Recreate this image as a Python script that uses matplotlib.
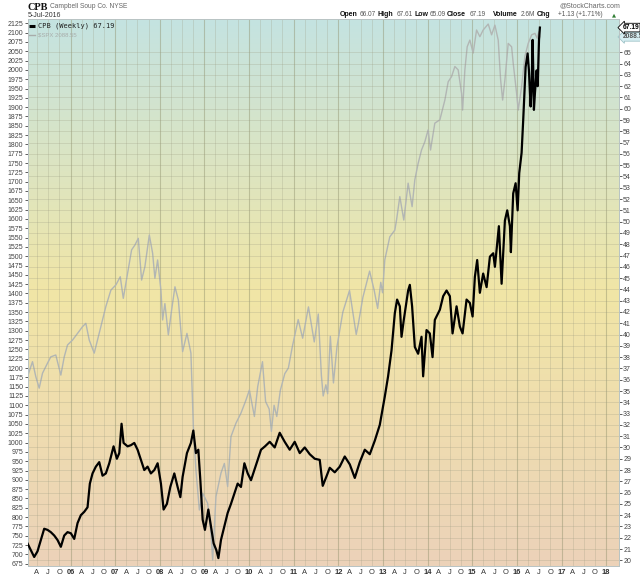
import numpy as np
import matplotlib
matplotlib.use("Agg")
import matplotlib.pyplot as plt
from matplotlib.colors import LinearSegmentedColormap

plt.rcParams["font.family"] = ["Liberation Sans", "DejaVu Sans"]

# ---------------- data (decimal year, value) ----------------
spx_t = [2005.036, 2005.148, 2005.222, 2005.298, 2005.372, 2005.484, 2005.558, 2005.670,
         2005.783, 2005.859, 2005.933, 2006.045, 2006.157, 2006.269, 2006.343, 2006.419,
         2006.531, 2006.605, 2006.679, 2006.791, 2006.904, 2007.016, 2007.114, 2007.182,
         2007.278, 2007.368, 2007.442, 2007.518, 2007.592, 2007.666, 2007.765, 2007.839,
         2007.890, 2007.951, 2008.025, 2008.063, 2008.114, 2008.191, 2008.265, 2008.339,
         2008.415, 2008.511, 2008.608, 2008.697, 2008.751, 2008.809, 2008.886, 2008.960,
         2009.072, 2009.146, 2009.184, 2009.258, 2009.370, 2009.446, 2009.520, 2009.594,
         2009.706, 2009.818, 2009.930, 2010.007, 2010.119, 2010.193, 2010.300, 2010.370,
         2010.450, 2010.500, 2010.560, 2010.620, 2010.700, 2010.800, 2010.880, 2010.970,
         2011.100, 2011.200, 2011.330, 2011.460, 2011.550, 2011.620, 2011.660, 2011.720,
         2011.760, 2011.820, 2011.890, 2011.970, 2012.100, 2012.250, 2012.400, 2012.450,
         2012.550, 2012.700, 2012.800, 2012.880, 2012.950, 2012.990, 2013.040, 2013.152,
         2013.265, 2013.303, 2013.377, 2013.466, 2013.563, 2013.652, 2013.713, 2013.787,
         2013.863, 2013.937, 2014.011, 2014.065, 2014.161, 2014.274, 2014.312, 2014.386,
         2014.460, 2014.536, 2014.610, 2014.684, 2014.760, 2014.783, 2014.834, 2014.886,
         2014.946, 2015.020, 2015.096, 2015.170, 2015.244, 2015.357, 2015.433, 2015.507,
         2015.581, 2015.635, 2015.680, 2015.731, 2015.805, 2015.881, 2015.917, 2015.993,
         2016.029, 2016.105, 2016.179, 2016.253, 2016.330, 2016.404, 2016.455, 2016.490,
         2016.515]
spx_v = [1177, 1217, 1177, 1146, 1186, 1213, 1230, 1235,
         1181, 1230, 1262, 1275, 1293, 1311, 1320, 1275,
         1240, 1275, 1311, 1365, 1409, 1423, 1445, 1387,
         1454, 1517, 1530, 1548, 1436, 1472, 1557, 1508,
         1441, 1490, 1409, 1329, 1373, 1289, 1356, 1418,
         1383, 1244, 1293, 1240, 1043, 927, 819, 864,
         837, 757, 685, 855, 918, 944, 882, 1016,
         1052, 1079, 1114, 1141, 1070, 1150, 1217, 1110,
         1090, 1030, 1100, 1070, 1140, 1185, 1200, 1258,
         1330, 1280, 1364, 1270, 1345, 1180, 1125, 1155,
         1131, 1285, 1160, 1258, 1350, 1408, 1290, 1320,
         1390, 1460, 1410, 1360, 1430, 1402, 1490, 1552,
         1570, 1597, 1660, 1597, 1696, 1633, 1705, 1749,
         1785, 1807, 1839, 1785, 1857, 1866, 1884, 1919,
         1968, 1982, 2009, 2000, 1937, 1892, 2000, 2062,
         2080, 2045, 2107, 2089, 2107, 2123, 2094, 2120,
         2080, 1973, 1919, 1973, 2071, 2062, 2018, 1937,
         1892, 1955, 2036, 2071, 2094, 2098, 2085, 2102,
         2088.55]

cpb_t = [2005.036, 2005.110, 2005.186, 2005.260, 2005.334, 2005.410, 2005.484, 2005.558,
         2005.635, 2005.709, 2005.783, 2005.859, 2005.933, 2006.007, 2006.083, 2006.157,
         2006.231, 2006.307, 2006.381, 2006.433, 2006.493, 2006.567, 2006.643, 2006.717,
         2006.791, 2006.868, 2006.964, 2007.038, 2007.092, 2007.143, 2007.188, 2007.278,
         2007.352, 2007.428, 2007.502, 2007.576, 2007.652, 2007.726, 2007.800, 2007.877,
         2007.951, 2008.025, 2008.085, 2008.159, 2008.235, 2008.325, 2008.399, 2008.460,
         2008.511, 2008.608, 2008.697, 2008.751, 2008.809, 2008.863, 2008.908, 2008.960,
         2009.011, 2009.087, 2009.146, 2009.206, 2009.267, 2009.312, 2009.370, 2009.446,
         2009.520, 2009.594, 2009.670, 2009.744, 2009.818, 2009.895, 2009.969, 2010.043,
         2010.119, 2010.193, 2010.267, 2010.357, 2010.462, 2010.574, 2010.686, 2010.798,
         2010.910, 2011.022, 2011.135, 2011.247, 2011.359, 2011.471, 2011.583, 2011.650,
         2011.740, 2011.807, 2011.919, 2012.031, 2012.143, 2012.256, 2012.368, 2012.480,
         2012.592, 2012.704, 2012.816, 2012.928, 2013.040, 2013.114, 2013.191, 2013.265,
         2013.316, 2013.377, 2013.415, 2013.466, 2013.563, 2013.601, 2013.652, 2013.713,
         2013.787, 2013.863, 2013.899, 2013.975, 2014.049, 2014.110, 2014.161, 2014.274,
         2014.348, 2014.424, 2014.498, 2014.558, 2014.648, 2014.722, 2014.783, 2014.872,
         2014.946, 2015.007, 2015.058, 2015.110, 2015.170, 2015.244, 2015.321, 2015.395,
         2015.469, 2015.507, 2015.596, 2015.657, 2015.731, 2015.783, 2015.843, 2015.865,
         2015.917, 2015.971, 2016.016, 2016.052, 2016.105, 2016.141, 2016.195, 2016.240,
         2016.269, 2016.307, 2016.330, 2016.352, 2016.366, 2016.381, 2016.404, 2016.442,
         2016.465, 2016.495, 2016.515]
cpb_v = [21.5, 20.9, 20.3, 20.8, 21.8, 22.8, 22.7, 22.5,
         22.2, 21.8, 21.2, 22.2, 22.5, 22.4, 21.9, 23.3,
         24.0, 24.3, 24.7, 26.8, 27.7, 28.3, 28.7, 27.5,
         27.7, 28.6, 30.1, 29.0, 29.5, 32.1, 30.4, 30.1,
         30.2, 30.4, 29.8, 28.9, 28.0, 28.3, 27.7, 28.0,
         28.6, 26.8, 24.5, 25.0, 26.5, 27.7, 26.5, 25.6,
         27.4, 29.5, 30.4, 31.5, 29.5, 29.8, 27.1, 23.6,
         22.7, 24.5, 23.0, 21.5, 20.9, 20.2, 21.8, 23.0,
         24.2, 25.0, 25.9, 26.8, 26.5, 28.6, 27.7, 27.1,
         28.0, 28.9, 29.8, 30.1, 30.5, 30.0, 31.3, 30.5,
         29.8, 30.5, 29.5, 30.0, 29.4, 29.0, 28.9, 26.6,
         27.5, 28.2, 27.8, 28.3, 29.2, 28.5, 27.3, 28.7,
         29.8, 29.4, 30.6, 32.0, 34.5, 36.3, 38.6, 41.9,
         43.1, 42.5, 39.8, 41.3, 43.9, 44.4, 42.5, 38.9,
         38.3, 39.8, 36.3, 40.4, 40.1, 38.0, 41.3, 42.2,
         43.4, 43.9, 43.4, 40.1, 42.5, 40.7, 40.1, 43.1,
         42.8, 41.6, 45.1, 46.6, 43.7, 45.4, 44.2, 46.9,
         47.2, 46.0, 49.6, 44.5, 50.1, 51.0, 49.6, 47.3,
         52.5, 53.4, 51.0, 54.3, 56.1, 59.0, 63.7, 64.9,
         63.4, 60.2, 62.0, 66.1, 63.4, 59.9, 61.4, 63.4,
         62.0, 66.1, 67.19]

spx_ticks = list(range(675, 2126, 25))
cpb_ticks = list(range(20, 66))
years = list(range(2006, 2019))
quarter_names = ["A", "J", "O"]
quarter_offsets = [0.247, 0.496, 0.748]

# ---------------- figure ----------------
W, H = 640, 576
fig = plt.figure(figsize=(W / 100, H / 100), dpi=100)
L, R, T, B = 27.5, 619, 19, 566
ax = fig.add_axes([L / W, 1 - B / H, (R - L) / W, (B - T) / H])

# background gradient
cmap = LinearSegmentedColormap.from_list(
    "bg", [(0.0, "#c4e3e1"), (0.5, "#f1e6a6"), (1.0, "#ecd2b9")])
grad = np.linspace(0, 1, 256).reshape(-1, 1)
ax.imshow(grad, cmap=cmap, aspect="auto", extent=[0, 1, 0, 1],
          transform=ax.transAxes, zorder=0, interpolation="bilinear")

ax.plot(spx_t, spx_v, color="#b2b6b4", lw=1.0, zorder=3)
ax.set_xlim(2005.036, 2018.287)
ax.set_ylim(668.8, 2136.5)

ax2 = ax.twinx()
ax2.plot(cpb_t, cpb_v, color="black", lw=1.6, zorder=3)
ax2.set_ylim(19.5, 67.95)

# x ticks
qpos, qlab = [], []
for y in range(2005, 2018):
    for off, nm in zip(quarter_offsets, quarter_names):
        p = y + off
        if ax.get_xlim()[0] < p < 2018.0:
            qpos.append(p)
            qlab.append(nm)
ax.set_xticks(years)
ax.set_xticklabels([f"{y % 100:02d}" for y in years], fontweight="bold")
ax.set_xticks(qpos, minor=True)
ax.set_xticklabels(qlab, minor=True)
ax.tick_params(axis="x", which="both", length=0, pad=1.8, labelsize=5.4,
               colors="#333333")
ax.grid(axis="x", which="major", color="#8f906c", alpha=0.45, lw=0.8, zorder=1)
ax.grid(axis="x", which="minor", color="#9a9a80", alpha=0.3, lw=0.6, zorder=1)

# y ticks
ax.set_yticks(spx_ticks)
ax.tick_params(axis="y", length=2, width=0.6, pad=1, labelsize=5.0,
               colors="#444444")
ax2.set_yticks(cpb_ticks)
ax2.tick_params(axis="y", length=2, width=0.6, pad=1, labelsize=5.0,
                colors="#444444")
ax2.grid(axis="y", color="#9a9a80", alpha=0.3, lw=0.6, zorder=1)
ax2.set_axisbelow(True)

for a in (ax, ax2):
    for s in a.spines.values():
        s.set_color("#b9c4c4")
        s.set_linewidth(0.7)

# value tags on right
ax2.annotate(f"{cpb_v[-1]:.2f}", xy=(1.0, cpb_v[-1]),
             xycoords=("axes fraction", "data"), xytext=(2.5, 0),
             textcoords="offset points", va="center", ha="left",
             fontsize=4.8, fontweight="bold", color="black",
             bbox=dict(boxstyle="larrow,pad=0.12", fc="white", ec="black", lw=0.6),
             annotation_clip=False)
ax.annotate(f"{spx_v[-1]:.2f}", xy=(1.0, spx_v[-1]),
            xycoords=("axes fraction", "data"), xytext=(2.5, 0),
            textcoords="offset points", va="center", ha="left",
            fontsize=4.8, fontweight="bold", color="#555555",
            bbox=dict(boxstyle="larrow,pad=0.12", fc="#d6eef2", ec="#9fc3c8", lw=0.6),
            annotation_clip=False, zorder=10)

# legend inside
ax.plot([0.003, 0.013], [0.988, 0.988], transform=ax.transAxes, color="black",
        lw=2.2, zorder=6, solid_capstyle="butt")
ax.text(0.017, 0.988, f"CPB (Weekly) {cpb_v[-1]:.2f}", transform=ax.transAxes,
        fontsize=5.0, family="DejaVu Sans Mono", va="center", ha="left",
        color="#222222", zorder=6)
ax.plot([0.003, 0.013], [0.9715, 0.9715], transform=ax.transAxes, color="#a8acaa",
        lw=1.0, zorder=6)
ax.text(0.017, 0.9715, f"$SPX {spx_v[-1]:.2f}", transform=ax.transAxes,
        fontsize=4.3, va="center", ha="left", color="#a8acaa", zorder=6)

# header
def px(x, y):
    return x / W, 1 - y / H

fig.text(*px(28, 7), "CPB", fontsize=7.4, fontweight="bold", va="center",
         ha="left", color="#111111", family=["Liberation Serif", "DejaVu Serif"])
fig.text(*px(50, 7), "Campbell Soup Co. NYSE", fontsize=4.8, va="center",
         ha="left", color="#666666")
fig.text(*px(28, 15.5), "5-Jul-2016", fontsize=5.0, va="center", ha="left",
         color="#333333")
fig.text(*px(620, 5.5), "@StockCharts.com", fontsize=5.0, va="center",
         ha="right", color="#666666")

hdr = [(340, "Open", True), (360, "66.07", False), (378, "High", True),
       (396.5, "67.61", False), (414.5, "Low", True), (429.8, "65.09", False),
       (446.5, "Close", True), (470, "67.19", False), (493, "Volume", True),
       (521, "2.6M", False), (537, "Chg", True), (557.5, "+1.13 (+1.71%)", False)]
for x, s, b in hdr:
    fig.text(*px(x, 14.5), s, fontsize=5.0 if b else 4.7,
             fontweight="bold" if b else "normal", va="center", ha="left",
             color="#111111" if b else "#555555")
fig.text(*px(612, 14.5), "\u25b2", fontsize=3.8, va="center", ha="left",
         color="#2e7d32", family="DejaVu Sans")

fig.savefig("out.png", dpi=100)
